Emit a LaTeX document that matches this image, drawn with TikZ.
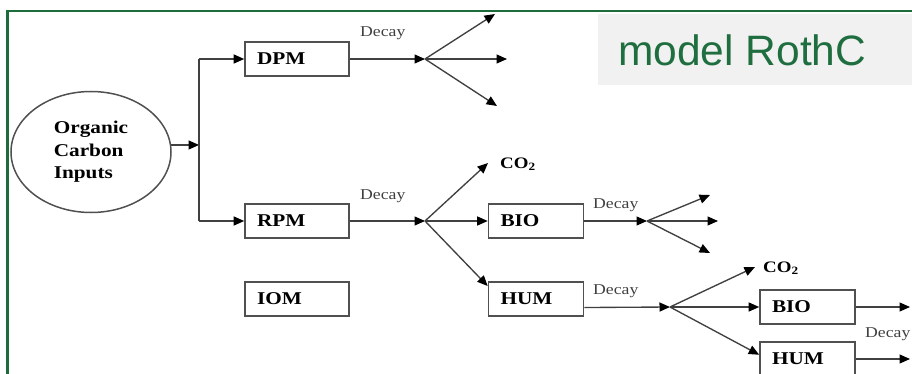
\documentclass[tikz,border=0pt]{standalone}
\usepackage{fontspec}
\usetikzlibrary{arrows.meta,shapes.geometric}
\newfontfamily\diagfont{Liberation Serif}[FakeStretch=1.18]
\newfontfamily\headfont{Liberation Sans}
\definecolor{framegreen}{HTML}{1E6B3C}
\definecolor{headgreen}{HTML}{1F6E3F}
\definecolor{headfill}{HTML}{F1F1F1}
\definecolor{linegray}{HTML}{404040}
\definecolor{boxgray}{HTML}{505050}
\begin{document}
\begin{tikzpicture}[x=1pt,y=-1pt,
  pool/.style={draw=boxgray, line width=1.6pt, minimum height=34pt, inner ysep=0pt,
    inner xsep=12pt, text width=80pt, align=left,
    font=\diagfont\bfseries\fontsize{18}{20}\selectfont},
  subpool/.style={pool, text width=71pt},
  wire/.style={draw=linegray, line width=1.35pt},
  flow/.style={wire, -{Triangle[length=10.5pt,width=9pt,color=black]}},
  decay/.style={anchor=base west, inner sep=0pt, text=linegray,
    font=\diagfont\fontsize{15}{17}\selectfont},
  gas/.style={anchor=base west, inner sep=0pt,
    font=\diagfont\bfseries\fontsize{16}{18}\selectfont}]
  \useasboundingbox (0,0) rectangle (912,374);
  \clip (0,0) rectangle (912,374);

  % frame and heading
  \draw[framegreen, line width=2.2pt] (7.5,11) rectangle (940,400);
  \fill[headfill] (598,14) rectangle (912,85);
  \node[anchor=base west, inner sep=0pt, text=headgreen,
        font=\headfont\fontsize{42.5}{46}\selectfont] (title) at (618,66) {model RothC};

  % input and pools
  \node[ellipse, draw=boxgray, line width=1.5pt, minimum width=160pt, minimum height=121pt,
        inner sep=0pt, align=left, font=\diagfont\bfseries\fontsize{18}{22.5}\selectfont]
        (oci) at (91,152) {Organic\\Carbon\\Inputs};
  \node[pool] (dpm) at (297,59) {DPM};
  \node[pool] (rpm) at (297,221) {RPM};
  \node[pool] (iom) at (297,299) {IOM};
  \node[subpool] (bio1) at (536,221) {BIO};
  \node[subpool] (hum1) at (536,299) {HUM};
  \node[subpool] (bio2) at (807.5,307) {BIO};
  \node[subpool] (hum2) at (807.5,359) {HUM};

  % branch points and free ends
  \coordinate (trunk) at (199,145);
  \coordinate (s1) at (425,59);
  \coordinate (s2) at (425,221);
  \coordinate (s3) at (647,221);
  \coordinate (s4) at (670,307);
  \coordinate (d1) at (495,14);
  \coordinate (d2) at (507,59);
  \coordinate (d3) at (497,106);
  \coordinate (b1) at (710,195);
  \coordinate (b2) at (718,221);
  \coordinate (b3) at (710,253);
  \coordinate (c1) at (488,163);
  \coordinate (c2) at (755,267);
  \coordinate (e1) at (910,307);
  \coordinate (e2) at (910,359);

  % inputs split into DPM and RPM
  \draw[flow] (oci.5) -- (oci.5 -| trunk);
  \draw[wire] (trunk |- dpm.west) -- (trunk |- rpm.west);
  \draw[flow] (trunk |- dpm.west) -- (dpm.west);
  \draw[flow] (trunk |- rpm.west) -- (rpm.west);

  % DPM decay
  \draw[flow] (dpm.east) -- (s1);
  \draw[flow] (s1) -- (d1);
  \draw[flow] (s1) -- (d2);
  \draw[flow] (s1) -- (d3);

  % RPM decay
  \draw[flow] (rpm.east) -- (s2);
  \draw[flow] (s2) -- (c1);
  \draw[flow] (s2) -- (bio1.west);
  \draw[flow] (s2) -- (hum1.165);

  % BIO decay
  \draw[flow] (bio1.east) -- (s3);
  \draw[flow] (s3) -- (b1);
  \draw[flow] (s3) -- (b2);
  \draw[flow] (s3) -- (b3);

  % HUM decay
  \draw[flow] (hum1.-10) -- (s4);
  \draw[flow] (s4) -- (c2);
  \draw[flow] (s4) -- (bio2.west);
  \draw[flow] (s4) -- (hum2.175);
  \draw[flow] (bio2.east) -- (e1);
  \draw[flow] (hum2.east) -- (e2);

  % labels
  \node[decay] (l1) at (360,37) {Decay};
  \node[decay] (l2) at (360,200) {Decay};
  \node[decay] (l3) at (593,208) {Decay};
  \node[decay] (l4) at (593,294) {Decay};
  \node[decay] (l5) at (865,337) {Decay};
  \node[gas] (g1) at (500,168) {CO\textsubscript{2}};
  \node[gas] (g2) at (763,272) {CO\textsubscript{2}};
\end{tikzpicture}
\end{document}
